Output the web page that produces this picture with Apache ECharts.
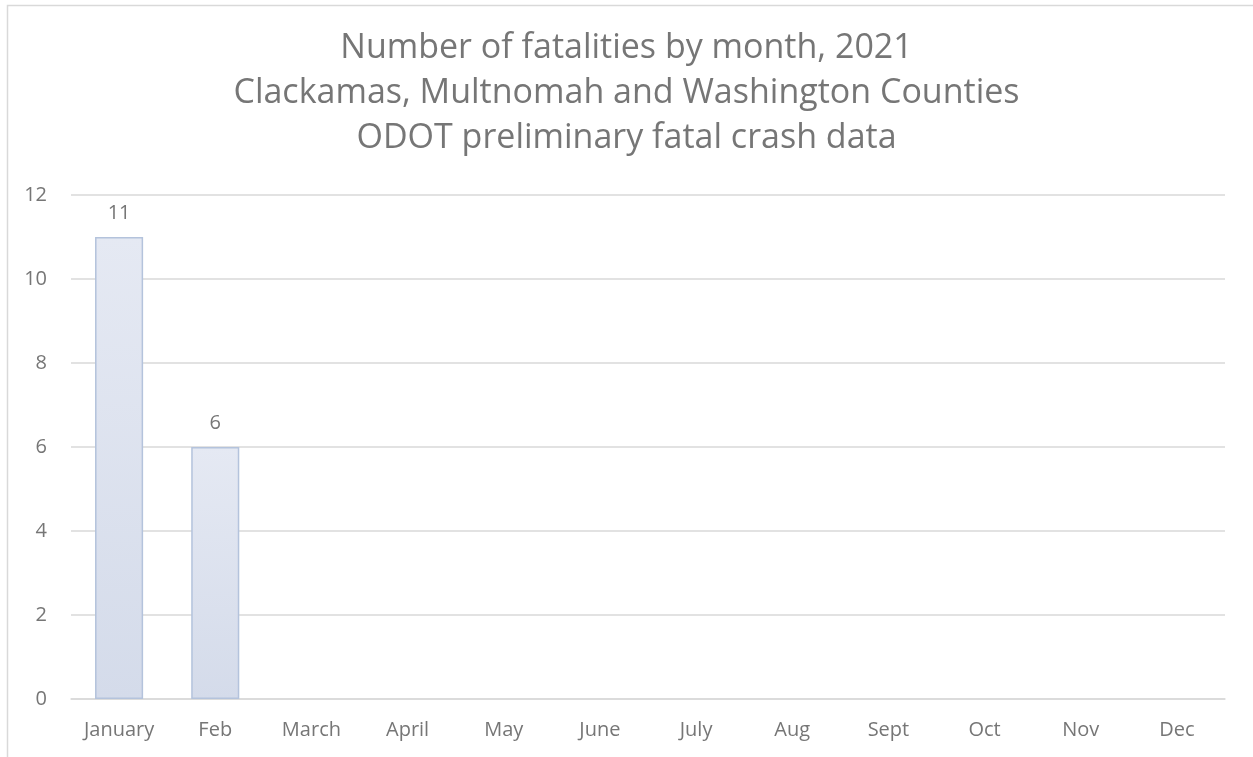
<!DOCTYPE html>
<html>
<head>
<meta charset="utf-8">
<script src="https://cdn.jsdelivr.net/npm/echarts@6/dist/echarts.min.js"></script>
<style>
  html, body { margin: 0; padding: 0; background: #fff; }
  #chart { width: 1253px; height: 757px; }
</style>
</head>
<body>
<div id="chart"></div>
<script>
// data
var months = ['January', 'Feb', 'March', 'April', 'May', 'June', 'July', 'Aug', 'Sept', 'Oct', 'Nov', 'Dec']
var fatalities = [11, 6, null, null, null, null, null, null, null, null, null, null]
var titleLines = [
  'Number of fatalities by month, 2021',
  'Clackamas, Multnomah and Washington Counties',
  'ODOT preliminary fatal crash data'
]

var font = '"Open Sans", Lato, sans-serif'
var chart = echarts.init(document.getElementById('chart'))

chart.setOption({
  animation: false,
  title: {
    left: 'center',
    top: 21,
    text: titleLines.join('\n'),
    textStyle: {
      fontFamily: font,
      fontWeight: 'normal',
      fontSize: 34,
      lineHeight: 45,
      color: '#767676'
    }
  },
  // outer chart border (only top and left are inside the frame)
  graphic: [{
    type: 'rect',
    shape: { x: 7.5, y: 5.5, width: 1400, height: 900 },
    style: { fill: 'none', stroke: '#d9d9d9', lineWidth: 1.5 },
    silent: true
  }],
  grid: {
    left: 71,
    right: 28,
    top: 195,
    bottom: 58
  },
  xAxis: {
    type: 'category',
    data: months,
    axisTick: { show: false },
    axisLine: { lineStyle: { color: '#d9d9d9', width: 1.5 } },
    axisLabel: {
      fontFamily: font,
      fontSize: 20,
      color: '#767676',
      margin: 21
    }
  },
  yAxis: {
    type: 'value',
    min: 0,
    max: 12,
    interval: 2,
    axisLine: { show: false },
    axisTick: { show: false },
    splitLine: { lineStyle: { color: '#d9d9d9', width: 1.5 } },
    axisLabel: {
      fontFamily: font,
      fontSize: 20,
      color: '#767676',
      margin: 24
    }
  },
  series: [{
    type: 'bar',
    data: fatalities,
    barWidth: '50%',
    itemStyle: {
      color: new echarts.graphic.LinearGradient(0, 0, 0, 1, [
        { offset: 0, color: '#e5e9f3' },
        { offset: 1, color: '#d4dbea' }
      ]),
      borderColor: '#b4c3dc',
      borderWidth: 1.5
    },
    label: {
      show: true,
      position: 'top',
      distance: 14,
      fontFamily: font,
      fontSize: 20,
      color: '#767676'
    }
  }]
})
</script>
</body>
</html>
